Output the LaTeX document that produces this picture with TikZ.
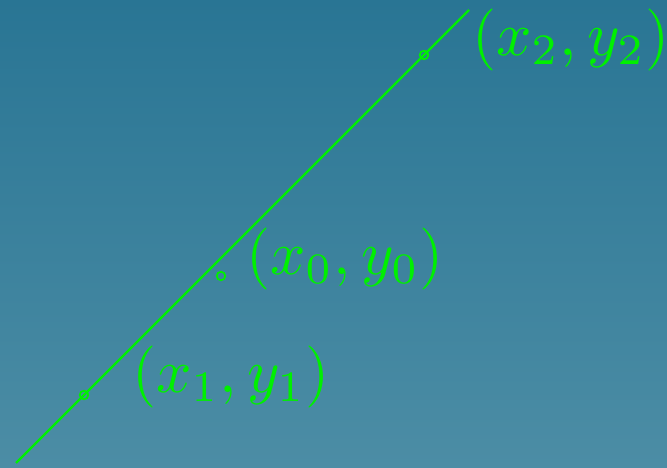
\documentclass[tikz,border=0pt]{standalone}
\usepackage{tikz}
\usetikzlibrary{calc}
\definecolor{BgTop}{RGB}{41,117,148}
\definecolor{BgBottom}{RGB}{76,141,165}
\definecolor{PtGreen}{RGB}{0,240,0}
\newcommand{\ptname}[1]{\scalebox{6.2}{$#1$}}

\begin{document}
\begin{tikzpicture}[x=1pt, y=1pt,
  dot/.style={circle, draw=PtGreen, line width=1.8pt, minimum size=8.5pt, inner sep=0pt},
  ptlabel/.style={anchor=west, inner sep=0pt, text=PtGreen}]
% --- background ---
\shade[top color=BgTop, bottom color=BgBottom] (0,0) rectangle (667,468);
\useasboundingbox (0,0) rectangle (667,468);
% --- the line and its points ---
\coordinate (a) at (16,5);
\coordinate (b) at (469,458);
\draw[PtGreen, line width=2.2pt] (a) -- (b);
\node[dot] (p1) at (84,73) {};
\node[dot] (p2) at (424,413) {};
\node[dot] (p0) at (221,192) {};
\node[ptlabel] (l1) at ($(p1)+(48,18)$) {\ptname{(x_1,y_1)}};
\node[ptlabel] (l0) at ($(p0)+(25,17)$) {\ptname{(x_0,y_0)}};
\node[ptlabel] (l2) at ($(p2)+(48,15)$) {\ptname{(x_2,y_2)}};
\end{tikzpicture}
\end{document}
